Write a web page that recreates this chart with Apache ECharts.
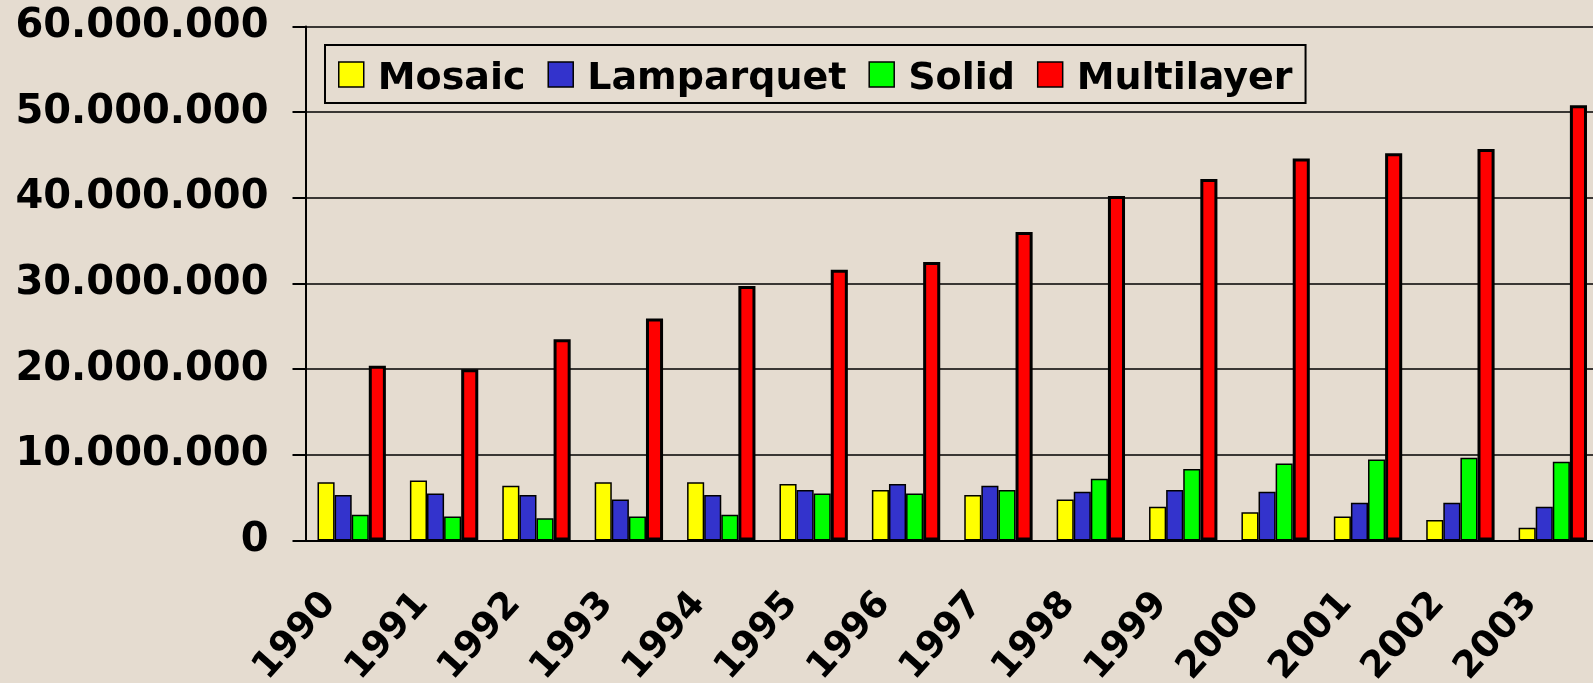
<!DOCTYPE html>
<html>
<head>
<meta charset="utf-8">
<title>Floor production 1990-2003</title>
<script src="https://cdn.jsdelivr.net/npm/echarts@6/dist/echarts.min.js"></script>
<style>
    html, body {
        margin: 0;
        padding: 0;
        background: #e5dcd0;
    }
    #myChart {
        width: 1593px;
        height: 683px;
    }
</style>
</head>
<body>
<div id="myChart"></div>
<script>
    var years = ['1990', '1991', '1992', '1993', '1994', '1995', '1996', '1997', '1998', '1999', '2000', '2001', '2002', '2003']
    var seriesNames = ['Mosaic', 'Lamparquet', 'Solid', 'Multilayer']
    var mosaic = [6800000, 7000000, 6400000, 6800000, 6800000, 6600000, 5900000, 5300000, 4800000, 3950000, 3300000, 2800000, 2400000, 1500000]
    var lamparquet = [5300000, 5500000, 5300000, 4800000, 5300000, 5900000, 6600000, 6400000, 5700000, 5900000, 5700000, 4400000, 4400000, 3950000]
    var solid = [3000000, 2800000, 2600000, 2800000, 3000000, 5500000, 5500000, 5900000, 7200000, 8350000, 9000000, 9450000, 9650000, 9200000]
    var multilayer = [20400000, 20000000, 23500000, 25900000, 29700000, 31600000, 32500000, 36000000, 40200000, 42200000, 44600000, 45200000, 45700000, 50800000]

    var font = 'DejaVu Sans'

    function dotted(v) {
        return String(v).replace(/\B(?=(\d{3})+(?!\d))/g, '.')
    }

    function barSeries(name, data, color, border) {
        return {
            name: name,
            type: 'bar',
            data: data,
            barGap: 0,
            barCategoryGap: '26%',
            itemStyle: {
                color: color,
                borderColor: '#000',
                borderWidth: border
            }
        }
    }

    var myChart = echarts.init(document.getElementById('myChart'))
    myChart.setOption({
        backgroundColor: '#e5dcd0',
        animation: false,
        legend: {
            left: 325,
            top: 45,
            padding: [15, 13, 5, 13],
            borderColor: '#000',
            borderWidth: 2,
            itemWidth: 25,
            itemHeight: 25,
            itemGap: 22,
            icon: 'rect',
            itemStyle: {
                borderColor: '#000',
                borderWidth: 1.5
            },
            formatter: '{t|{name}}',
            textStyle: {
                fontFamily: font,
                fontWeight: 'bold',
                fontSize: 38,
                color: '#000',
                padding: [0, 0, 0, 9],
                rich: {
                    t: {
                        fontFamily: font,
                        fontWeight: 'bold',
                        fontSize: 38,
                        color: '#000',
                        padding: [9, 0, 0, 0]
                    }
                }
            },
            data: seriesNames
        },
        grid: {
            left: 305.5,
            right: -6,
            top: 26.5,
            bottom: 142.5,
            outerBoundsMode: 'none'
        },
        xAxis: {
            type: 'category',
            data: years,
            axisLine: {
                lineStyle: { color: '#000', width: 2 }
            },
            axisTick: {
                length: 13,
                lineStyle: { color: '#000', width: 2 }
            },
            axisLabel: {
                interval: 0,
                rotate: 48,
                margin: 33,
                padding: [0, 33, 0, 0],
                fontFamily: font,
                fontWeight: 'bold',
                fontSize: 37,
                color: '#000'
            }
        },
        yAxis: {
            type: 'value',
            min: 0,
            max: 60000000,
            interval: 10000000,
            axisLine: {
                show: true,
                lineStyle: { color: '#000', width: 2 }
            },
            axisTick: {
                show: true,
                length: 13,
                lineStyle: { color: '#000', width: 2 }
            },
            splitLine: {
                lineStyle: { color: '#000', width: 1.5 }
            },
            axisLabel: {
                margin: 37,
                fontFamily: font,
                fontWeight: 'bold',
                fontSize: 40,
                color: '#000',
                formatter: dotted
            }
        },
        series: [
            barSeries(seriesNames[0], mosaic, '#ffff00', 1.5),
            barSeries(seriesNames[1], lamparquet, '#3333cc', 1.5),
            barSeries(seriesNames[2], solid, '#00ff00', 1.5),
            barSeries(seriesNames[3], multilayer, '#ff0000', 3)
        ]
    })
</script>
</body>
</html>
